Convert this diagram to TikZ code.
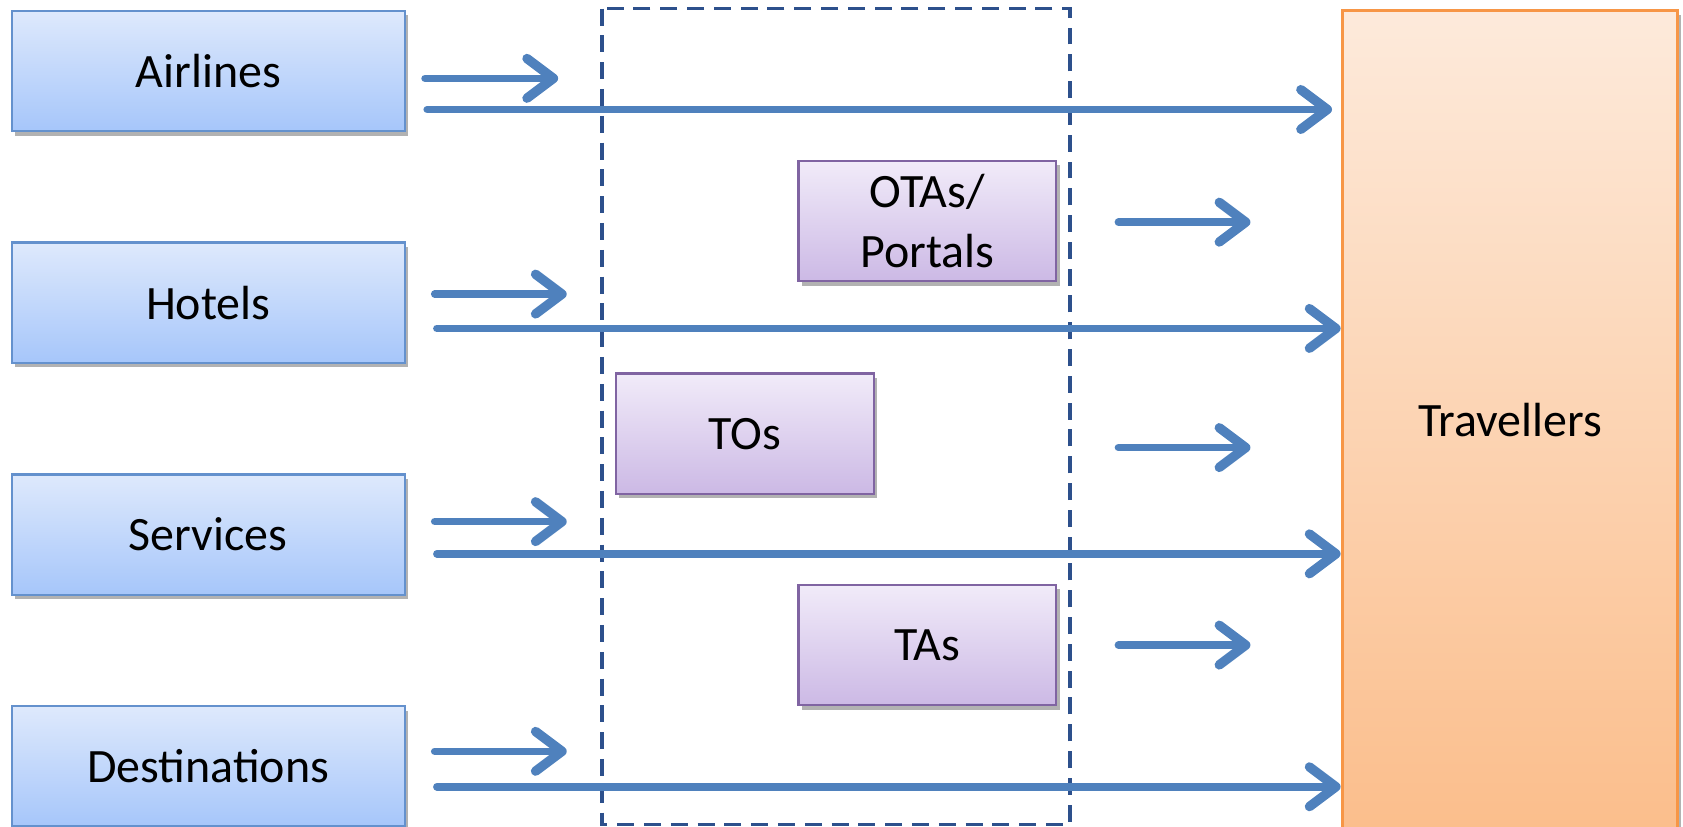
\documentclass[tikz,border=0pt]{standalone}
\usepackage{fontspec}
\setmainfont{Carlito}
\usetikzlibrary{arrows.meta,shadows}
\definecolor{arrblue}{RGB}{79,129,189}
\definecolor{sbord}{RGB}{100,145,205}
\definecolor{stop}{RGB}{222,233,252}
\definecolor{sbot}{RGB}{166,198,250}
\definecolor{pbord}{RGB}{128,100,162}
\definecolor{ptop}{RGB}{241,235,249}
\definecolor{pbot}{RGB}{204,185,229}
\definecolor{obord}{RGB}{247,150,70}
\definecolor{otop}{RGB}{253,234,219}
\definecolor{obot}{RGB}{251,190,140}
\definecolor{dashc}{RGB}{45,80,140}
\begin{document}
\begin{tikzpicture}[x=0.01cm,y=-0.01cm,
  lbl/.style={font=\fontsize{12.7}{16}\selectfont, align=center, inner sep=0pt},
  shad/.style={drop shadow={shadow xshift=0.9pt, shadow yshift=-1.2pt, opacity=0.3, fill=black}},
  supplier/.style={lbl, draw=sbord, line width=0.6pt, top color=stop, bottom color=sbot, minimum width=3.66cm, minimum height=1.12cm, shad},
  mid/.style={lbl, draw=pbord, line width=0.6pt, top color=ptop, bottom color=pbot, minimum width=2.40cm, minimum height=1.12cm, shad},
  trav/.style={lbl, draw=obord, line width=0.8pt, top color=otop, bottom color=obot, minimum width=3.12cm, minimum height=7.62cm, shad},
  arr/.style={draw=arrblue, line width=2pt, line cap=round, -{Straight Barb[length=7pt, width=10.5pt, line width=2.5pt, line cap=round, line join=round]}},
  dbox/.style={draw=dashc, line width=0.9pt, dash pattern=on 4.5pt off 2.6pt}
]
\useasboundingbox (0,0) rectangle (1568,770);

% dashed intermediary region
\draw[dbox] (561,8) rectangle (997,768);

% suppliers
\node[supplier] (air) at (194,66) {Airlines};
\node[supplier] (hot) at (194,282) {Hotels};
\node[supplier] (ser) at (194,498) {Services};
\node[supplier] (des) at (194,714) {Destinations};

% intermediaries
\node[mid] (ota) at (864,206) {OTAs/\\Portals};
\node[mid] (tos) at (694,404) {TOs};
\node[mid] (tas) at (864,601) {TAs};

% travellers
\node[trav] (tr) at (1407,391) {Travellers};

% coordinates for arrow ends
\coordinate (a1s) at (396,73);   \coordinate (a1e) at (520,73);
\coordinate (a2s) at (398,102);  \coordinate (a2e) at (1241,102);
\coordinate (h1s) at (405,274);  \coordinate (h1e) at (528,274);
\coordinate (h2s) at (407,306);  \coordinate (h2e) at (1249,306);
\coordinate (s1s) at (405,486);  \coordinate (s1e) at (528,486);
\coordinate (s2s) at (407,516);  \coordinate (s2e) at (1249,516);
\coordinate (d1s) at (405,700);  \coordinate (d1e) at (528,700);
\coordinate (d2s) at (407,733);  \coordinate (d2e) at (1249,733);
\coordinate (o1s) at (1042,207); \coordinate (o1e) at (1165,207);
\coordinate (o2s) at (1042,417); \coordinate (o2e) at (1165,417);
\coordinate (o3s) at (1042,601); \coordinate (o3e) at (1165,601);

\draw[arr] (a1s) -- (a1e);
\draw[arr] (a2s) -- (a2e);
\draw[arr] (h1s) -- (h1e);
\draw[arr] (h2s) -- (h2e);
\draw[arr] (s1s) -- (s1e);
\draw[arr] (s2s) -- (s2e);
\draw[arr] (d1s) -- (d1e);
\draw[arr] (d2s) -- (d2e);
\draw[arr] (o1s) -- (o1e);
\draw[arr] (o2s) -- (o2e);
\draw[arr] (o3s) -- (o3e);
\end{tikzpicture}
\end{document}
